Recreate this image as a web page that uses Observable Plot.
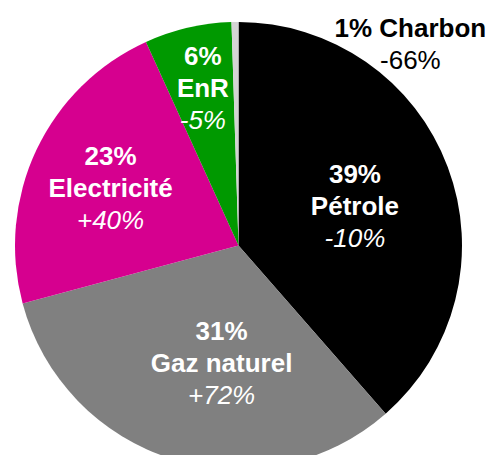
<!DOCTYPE html>
<html><head><meta charset="utf-8">
<script src="https://cdn.jsdelivr.net/npm/d3@7"></script>
<script src="https://cdn.jsdelivr.net/npm/@observablehq/plot@0.6"></script>
<style>body{margin:0;background:#fff;}</style>
</head><body><div id="chart"></div>
<script>
// Data
const sources = ["Pétrole", "Gaz naturel", "Electricité", "EnR", "Charbon"];
const shares = [38.6, 32.3, 22.4, 6.3, 0.5];
const shareLabels = ["39%", "31%", "23%", "6%", "1%"];
const changeLabels = ["-10%", "+72%", "+40%", "-5%", "-66%"];

// Styles and label layout (angle clockwise from 12 o'clock, radius as fraction of pie radius)
const colors = ["#000000", "#808080", "#d6008f", "#009900", "#d4d4d4"];
const labelAngle = [71.2, 188.4, 294.0, 347.1, 38.2];
const labelRadius = [0.548, 0.533, 0.629, 0.724, 1.24];

const rows = sources.map((s, i) => {
  const a = labelAngle[i] * Math.PI / 180;
  return {
    source: s, value: shares[i], share: shareLabels[i], change: changeLabels[i],
    color: colors[i], inside: i < 4,
    lx: labelRadius[i] * Math.sin(a), ly: labelRadius[i] * Math.cos(a)
  };
});
const inside = rows.filter(d => d.inside);
const outside = rows.filter(d => !d.inside);

function pieMark(index, scales) {
  const cx = scales.x(0), cy = scales.y(0);
  const r = scales.x(1) - scales.x(0);
  const arcs = d3.pie().sort(null).value(d => d.value)(rows);
  const arc = d3.arc().innerRadius(0).outerRadius(r);
  const g = d3.create("svg:g").attr("transform", `translate(${cx},${cy})`);
  g.selectAll("path").data(arcs).join("path")
    .attr("d", arc)
    .attr("fill", d => d.data.color);
  return g.node();
}

const font = "'Liberation Sans', Arial, sans-serif";
const fs = 26;
const chart = Plot.plot({
  width: 490,
  height: 455,
  margin: 0,
  x: {domain: [-1, 1], range: [15, 462], axis: null},
  y: {domain: [-1, 1], range: [469, 22], axis: null},
  style: {fontFamily: font, background: "#fff"},
  marks: [
    pieMark,
    Plot.text(inside, {x: "lx", y: "ly", text: "share", dy: -32, fill: "#fff", fontWeight: "bold", fontSize: fs}),
    Plot.text(inside, {x: "lx", y: "ly", text: "source", fill: "#fff", fontWeight: "bold", fontSize: fs}),
    Plot.text(inside, {x: "lx", y: "ly", text: "change", dy: 32, fill: "#fff", fontStyle: "italic", fontSize: fs}),
    Plot.text(outside, {x: "lx", y: "ly", text: d => d.share + " " + d.source, fill: "#000", fontWeight: "bold", fontSize: fs}),
    Plot.text(outside, {x: "lx", y: "ly", text: "change", dy: 32, fill: "#000", fontSize: fs})
  ]
});
document.getElementById("chart").append(chart);
</script>
</body></html>
